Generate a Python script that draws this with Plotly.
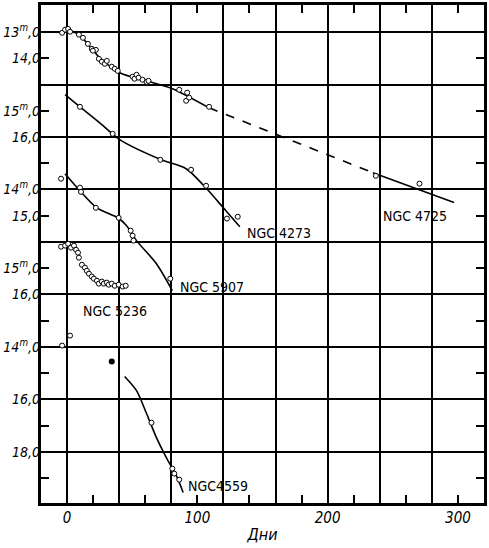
import plotly.graph_objects as go

# ---------------- data (days, magnitudes) ----------------
# NGC 4725
n4725_obs_d = [-3.8, -1.5, 0.8, 2.3, 9.1, 12.2, 16.0, 19.0, 22.1, 19.8, 24.4, 26.7, 29.0, 30.5,
               34.3, 36.6, 38.9, 50.3, 51.8, 53.3, 54.9, 57.9, 61.0, 62.5, 86.1, 92.2, 91.4,
               93.7, 109.0, 237.0, 270.5]
n4725_obs_m = [13.03, 12.91, 12.88, 12.99, 13.10, 13.22, 13.45, 13.64, 13.68, 13.71, 14.02, 14.13,
               14.21, 14.10, 14.32, 14.40, 14.48, 14.70, 14.78, 14.63, 14.74, 14.82, 14.90, 14.86,
               15.20, 15.31, 15.62, 15.50, 15.85, 18.48, 18.78]
n4725_fit_d = [0.0, 9.9, 25.1, 40.4, 61.0, 80.8, 109.0]
n4725_fit_m = [12.88, 13.14, 13.98, 14.55, 14.86, 15.16, 15.89]
n4725_dash_d = [109.0, 234.7]
n4725_dash_m = [15.89, 18.36]
n4725_tail_d = [234.7, 297.0]
n4725_tail_m = [18.36, 19.50]

# NGC 4273
n4273_obs_d = [9.9, 35.0, 71.6, 95.2, 106.7, 122.7, 131.0]
n4273_obs_m = [14.85, 15.88, 16.87, 17.25, 17.86, 19.11, 19.04]
n4273_fit_d = [-1.5, 9.9, 25.1, 40.4, 72.4, 91.4, 105.1, 121.9, 132.6]
n4273_fit_m = [14.39, 14.85, 15.46, 16.10, 16.87, 17.21, 17.86, 18.81, 19.42]

# NGC 5907
n5907_obs_d = [-4.6, 9.9, 10.7, 22.1, 39.6, 48.8, 50.3, 51.0, 79.2]
n5907_obs_m = [13.59, 13.93, 14.09, 14.70, 15.08, 15.57, 15.76, 15.95, 17.40]
n5907_fit_d = [-1.5, 9.9, 22.9, 38.9, 45.7, 53.3, 68.6, 80.8]
n5907_fit_m = [13.40, 14.05, 14.70, 15.08, 15.38, 15.95, 16.83, 17.86]

# NGC 5236
n5236_obs_d = [-4.6, -1.5, 0.8, 3.0, 5.3, 6.9, 8.4, 9.1, 11.4, 13.7, 15.2, 16.8, 19.0, 20.6,
               22.9, 24.4, 26.7, 28.2, 30.5, 32.0, 34.3, 36.6, 39.6, 42.7, 45.0]
n5236_obs_m = [14.18, 14.14, 14.07, 14.22, 14.14, 14.30, 14.41, 14.60, 14.87, 14.98, 15.10, 15.21,
               15.32, 15.40, 15.48, 15.59, 15.51, 15.59, 15.55, 15.63, 15.59, 15.67, 15.63, 15.70,
               15.67]

# NGC 4559
n4559_obs_d = [-3.8, 2.3, 64.8, 80.8, 82.3, 86.1]
n4559_obs_m = [13.95, 13.57, 16.89, 18.64, 18.83, 19.06]
n4559_filled_d = [34.3]
n4559_filled_m = [14.56]
n4559_fit_d = [44.2, 53.3, 61.0, 68.6, 76.2, 83.8, 89.1]
n4559_fit_m = [15.13, 15.67, 16.54, 17.46, 18.22, 18.90, 19.55]

# vertical offset of each panel on the common magnitude scale
offsets = {"4725": -12, "4273": -11, "5907": -7, "5236": -5, "4559": -1}

# y tick labels: (panel, magnitude, text)
ylabels = [("4725", 13, "13<sup>m</sup>,0"), ("4725", 14, "14,0"),
           ("4273", 15, "15<sup>m</sup>,0"), ("4273", 16, "16,0"),
           ("5907", 14, "14<sup>m</sup>,0"), ("5907", 15, "15,0"),
           ("5236", 15, "15<sup>m</sup>,0"), ("5236", 16, "16,0"),
           ("4559", 14, "14<sup>m</sup>,0"), ("4559", 16, "16,0"), ("4559", 18, "18,0")]

x_labels = [0, 100, 200, 300]

# galaxy labels: (text, day, panel, magnitude)
gal_labels = [("NGC 4725", 267, "4725", 20.0), ("NGC 4273", 163, "4273", 19.65),
              ("NGC 5907", 111, "5907", 17.7), ("NGC 5236", 37, "5236", 16.62),
              ("NGC4559", 116, "4559", 19.29)]

# ---------------- figure ----------------
def sh(mags, key):
    return [m + offsets[key] for m in mags]

fig = go.Figure()
LW = 1.6
line_style = dict(color="black", width=LW, shape="spline", smoothing=0.8)
mk = dict(symbol="circle", size=5, color="white", line=dict(color="black", width=1))

def add_line(d, m, key, dash="solid"):
    fig.add_trace(go.Scatter(x=d, y=sh(m, key), mode="lines",
                             line=dict(line_style, dash=dash), showlegend=False, hoverinfo="skip"))

def add_pts(d, m, key, marker=mk):
    fig.add_trace(go.Scatter(x=d, y=sh(m, key), mode="markers", marker=marker,
                             showlegend=False, hoverinfo="skip"))

add_line(n4725_fit_d, n4725_fit_m, "4725")
add_line(n4725_dash_d, n4725_dash_m, "4725", dash="dash")
add_line(n4725_tail_d, n4725_tail_m, "4725")
add_pts(n4725_obs_d, n4725_obs_m, "4725")

add_line(n4273_fit_d, n4273_fit_m, "4273")
add_pts(n4273_obs_d, n4273_obs_m, "4273")

add_line(n5907_fit_d, n5907_fit_m, "5907")
add_pts(n5907_obs_d, n5907_obs_m, "5907")

add_pts(n5236_obs_d, n5236_obs_m, "5236")

add_line(n4559_fit_d, n4559_fit_m, "4559")
add_pts(n4559_obs_d, n4559_obs_m, "4559")
add_pts(n4559_filled_d, n4559_filled_m, "4559",
        marker=dict(symbol="circle", size=6, color="black"))

# invisible traces to carry the label axes and the mirrored tick axes
for xa, ya in (("x2", "y2"), ("x3", "y3")):
    fig.add_trace(go.Scatter(x=[0], y=[5], xaxis=xa, yaxis=ya, mode="markers",
                             marker=dict(opacity=0), showlegend=False, hoverinfo="skip"))

FONT = "DejaVu Sans Condensed, Liberation Sans Narrow, sans-serif"

for txt, d, key, m in gal_labels:
    fig.add_annotation(x=d, y=m + offsets[key], text=txt, showarrow=False,
                       font=dict(family=FONT, size=14, color="black"))

yr = [18.95, -0.03]
xr = [-20, 320]
tick_style = dict(ticks="inside", ticklen=8, tickwidth=1.6, tickcolor="black")

fig.update_layout(
    width=489, height=548,
    margin=dict(l=41, r=2, t=5, b=45),
    plot_bgcolor="white", paper_bgcolor="white",
    xaxis=dict(range=xr, tickmode="array", tickvals=list(range(0, 320, 40)),
               showgrid=True, gridcolor="black", gridwidth=1.9,
               showticklabels=False, ticks="", zeroline=False,
               showline=True, linecolor="black", linewidth=2.5, mirror=True,
               minor=dict(tickmode="array", tickvals=list(range(0, 320, 20)),
                          showgrid=False, **tick_style)),
    yaxis=dict(range=yr, tickmode="array", tickvals=list(range(1, 19, 2)),
               showgrid=True, gridcolor="black", gridwidth=1.9,
               showticklabels=False, ticks="", zeroline=False,
               showline=True, linecolor="black", linewidth=2.5, mirror=True,
               minor=dict(tickmode="array", tickvals=list(range(2, 19, 2)),
                          showgrid=False, **tick_style)),
    xaxis2=dict(overlaying="x", matches="x", side="bottom", range=xr,
                tickmode="array", tickvals=x_labels,
                ticktext=[str(v) for v in x_labels], ticklabelstandoff=4,
                ticks="", showgrid=False, zeroline=False, showline=False,
                tickfont=dict(family=FONT, size=15, color="black", style="italic"),
                title=dict(text="Дни", standoff=2,
                           font=dict(family=FONT, size=16, color="black", style="italic"))),
    yaxis2=dict(overlaying="y", matches="y", side="left", range=yr,
                tickmode="array", tickvals=[m + offsets[k] for k, m, _ in ylabels],
                ticktext=[t for _, _, t in ylabels],
                ticks="", showgrid=False, zeroline=False, showline=False,
                tickfont=dict(family=FONT, size=14, color="black", style="italic")),
    xaxis3=dict(overlaying="x", matches="x", side="top", range=xr,
                tickmode="array", tickvals=list(range(20, 320, 40)),
                showticklabels=False, showgrid=False, zeroline=False, showline=False,
                **tick_style),
    yaxis3=dict(overlaying="y", matches="y", side="right", range=yr,
                tickmode="array", tickvals=list(range(2, 19, 2)),
                showticklabels=False, showgrid=False, zeroline=False, showline=False,
                **tick_style),
)

fig.write_html("out.html")
